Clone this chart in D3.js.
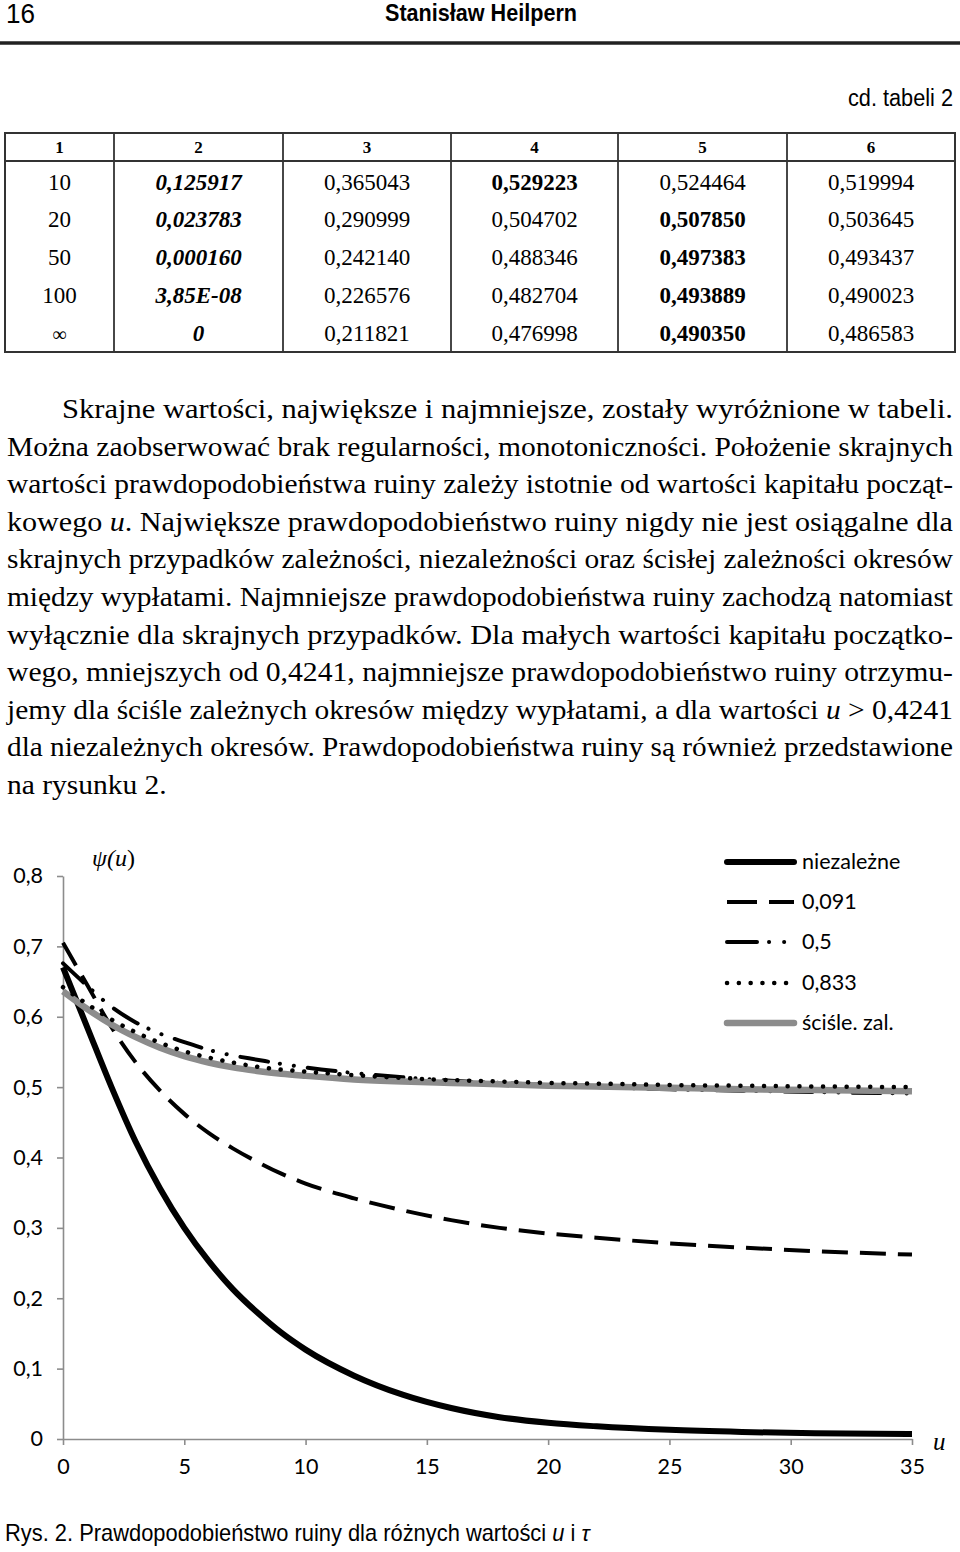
<!DOCTYPE html>
<html>
<head>
<meta charset="utf-8">
<script src="https://cdn.jsdelivr.net/npm/d3@7/dist/d3.min.js"></script>
<style>
  body { margin: 0; background: #fff; }
</style>
</head>
<body>
<svg id="page" width="960" height="1552"></svg>
<script>
// ---- table data (cd. tabeli 2)
const tableHead = ["1", "2", "3", "4", "5", "6"];
const tableRows = [
  ["10", "0,125917", "0,365043", "0,529223", "0,524464", "0,519994"],
  ["20", "0,023783", "0,290999", "0,504702", "0,507850", "0,503645"],
  ["50", "0,000160", "0,242140", "0,488346", "0,497383", "0,493437"],
  ["100", "3,85E-08", "0,226576", "0,482704", "0,493889", "0,490023"],
  ["∞", "0", "0,211821", "0,476998", "0,490350", "0,486583"]
];
// highlighted extremes: [row, col]
const boldCells = [[0, 3], [1, 4], [2, 4], [3, 4], [4, 4]];
const boldItalicCol = 1;

// ---- paragraph, one entry per printed line (*x* = italic)
const paragraphLines = [
  "Skrajne wartości, największe i najmniejsze, zostały wyróżnione w tabeli.",
  "Można zaobserwować brak regularności, monotoniczności. Położenie skrajnych",
  "wartości prawdopodobieństwa ruiny zależy istotnie od wartości kapitału począt-",
  "kowego *u*. Największe prawdopodobieństwo ruiny nigdy nie jest osiągalne dla",
  "skrajnych przypadków zależności, niezależności oraz ścisłej zależności okresów",
  "między wypłatami. Najmniejsze prawdopodobieństwa ruiny zachodzą natomiast",
  "wyłącznie dla skrajnych przypadków. Dla małych wartości kapitału początko-",
  "wego, mniejszych od 0,4241, najmniejsze prawdopodobieństwo ruiny otrzymu-",
  "jemy dla ściśle zależnych okresów między wypłatami, a dla wartości *u* > 0,4241",
  "dla niezależnych okresów. Prawdopodobieństwa ruiny są również przedstawione",
  "na rysunku 2."
];

// ---- chart data, values
const uGrid = [0, 1, 2, 3, 4, 5, 6, 7, 8, 9, 10, 12, 14, 16, 18, 20, 22, 25, 28, 31, 35];
const psiNiezalezne = [0.670, 0.585, 0.500, 0.422, 0.356, 0.300, 0.253, 0.213, 0.180, 0.151, 0.127,
  0.090, 0.063, 0.044, 0.031, 0.023, 0.018, 0.013, 0.010, 0.008, 0.007];
const psi0091 = [0.705, 0.645, 0.585, 0.535, 0.495, 0.462, 0.435, 0.413, 0.394, 0.377, 0.363,
  0.342, 0.325, 0.311, 0.300, 0.292, 0.286, 0.278, 0.272, 0.267, 0.262];
const psi05 = [0.676, 0.644, 0.614, 0.592, 0.576, 0.564, 0.553, 0.545, 0.539, 0.533, 0.528,
  0.520, 0.514, 0.509, 0.506, 0.503, 0.500, 0.497, 0.495, 0.493, 0.491];
const psi0833 = [0.642, 0.618, 0.596, 0.578, 0.563, 0.551, 0.542, 0.535, 0.529, 0.525, 0.522,
  0.517, 0.513, 0.510, 0.508, 0.506, 0.505, 0.503, 0.502, 0.501, 0.500];
const psiScisle = [0.636, 0.611, 0.589, 0.571, 0.556, 0.544, 0.535, 0.528, 0.523, 0.519, 0.516,
  0.511, 0.508, 0.506, 0.504, 0.502, 0.501, 0.499, 0.497, 0.496, 0.494];
const seriesNames = ["niezależne", "0,091", "0,5", "0,833", "ściśle. zal."];
const yTicks = [0, 0.1, 0.2, 0.3, 0.4, 0.5, 0.6, 0.7, 0.8];
const xTicks = [0, 5, 10, 15, 20, 25, 30, 35];

const serif = "'Liberation Serif','Times New Roman',serif";
const narrow = "'Liberation Sans Narrow','Arial Narrow','Liberation Sans',sans-serif";
const sans = "Lato,'Open Sans',sans-serif";

const svg = d3.select("#page");
svg.append("rect").attr("width", 960).attr("height", 1552).attr("fill", "#fff");

// ---- running head
svg.append("text").attr("x", 6).attr("y", 23)
  .style("font", `27px ${narrow}`).attr("textLength", 29).attr("lengthAdjust", "spacingAndGlyphs")
  .text("16");
svg.append("text").attr("x", 385).attr("y", 21)
  .style("font", `bold 23px ${narrow}`).attr("textLength", 192).attr("lengthAdjust", "spacingAndGlyphs")
  .text("Stanisław Heilpern");
svg.append("line").attr("x1", 0).attr("x2", 960).attr("y1", 43).attr("y2", 43)
  .attr("stroke", "#222").attr("stroke-width", 3.5);
svg.append("text").attr("x", 848).attr("y", 106)
  .style("font", `23px ${narrow}`).attr("textLength", 105).attr("lengthAdjust", "spacingAndGlyphs")
  .text("cd. tabeli 2");

// ---- table
const colEdges = [5, 114, 283, 451, 618, 787, 955];
const tTop = 133, tHead = 161, tBottom = 352;
const rowBase = [190, 227, 265, 303, 341];
const tg = svg.append("g");
tg.append("rect").attr("x", colEdges[0]).attr("y", tTop)
  .attr("width", colEdges[6] - colEdges[0]).attr("height", tBottom - tTop)
  .attr("fill", "none").attr("stroke", "#333").attr("stroke-width", 2);
tg.append("line").attr("x1", colEdges[0]).attr("x2", colEdges[6]).attr("y1", tHead).attr("y2", tHead)
  .attr("stroke", "#333").attr("stroke-width", 1.8);
tg.selectAll(".vline").data(colEdges.slice(1, -1)).enter().append("line")
  .attr("x1", d => d).attr("x2", d => d).attr("y1", tTop).attr("y2", tBottom)
  .attr("stroke", "#333").attr("stroke-width", 1.8);
const colMid = i => (colEdges[i] + colEdges[i + 1]) / 2;
tg.selectAll(".th").data(tableHead).enter().append("text")
  .attr("x", (d, i) => colMid(i)).attr("y", 153).attr("text-anchor", "middle")
  .style("font", `bold 17px ${serif}`).text(d => d);
tableRows.forEach((row, r) => {
  tg.selectAll(".r" + r).data(row).enter().append("text")
    .attr("x", (d, c) => colMid(c)).attr("y", rowBase[r]).attr("text-anchor", "middle")
    .style("font-family", serif)
    .style("font-size", (d, c) => (c === 0 && d === "∞") ? "20px" : "23px")
    .style("font-weight", (d, c) => (c === boldItalicCol || boldCells.some(b => b[0] === r && b[1] === c)) ? "bold" : "normal")
    .style("font-style", (d, c) => c === boldItalicCol ? "italic" : "normal")
    .text(d => d);
});

// ---- justified paragraph (each line stretched to the measure)
const pg = svg.append("g").style("font", `27px ${serif}`).attr("fill", "#000");
const lineNodes = paragraphLines.map((line, i) => {
  const t = pg.append("text").attr("x", i === 0 ? 62 : 7).attr("y", 418 + i * 37.6);
  line.split(/(\*[^*]+\*)/).filter(s => s).forEach(s => {
    const it = s.startsWith("*");
    t.append("tspan").style("font-style", it ? "italic" : "normal").text(it ? s.slice(1, -1) : s);
  });
  return t;
});
const ratios = [];
lineNodes.forEach((t, i) => {
  if (i === lineNodes.length - 1) return;
  const w = t.node().getComputedTextLength();
  const target = 953 - (i === 0 ? 62 : 7);
  ratios.push(target / w);
  t.attr("textLength", target).attr("lengthAdjust", "spacingAndGlyphs");
});
const lastT = lineNodes[lineNodes.length - 1];
lastT.attr("textLength", lastT.node().getComputedTextLength() * d3.median(ratios))
  .attr("lengthAdjust", "spacingAndGlyphs");

// ---- chart
const x = d3.scaleLinear().domain([0, 35]).range([63, 912]);
const y = d3.scaleLinear().domain([0, 0.8]).range([1439, 876]);
const axisColor = "#8c8c8c";
const fmt = d => d === 0 ? "0" : d3.format(".1f")(d).replace(".", ",");

const yAxis = svg.append("g").attr("transform", "translate(63,0)")
  .call(d3.axisLeft(y).tickValues(yTicks).tickFormat(fmt).tickSize(6).tickSizeOuter(0).tickPadding(14));
const xAxis = svg.append("g").attr("transform", "translate(0,1439)")
  .call(d3.axisBottom(x).tickValues(xTicks).tickSize(6).tickSizeOuter(0).tickPadding(14));
[yAxis, xAxis].forEach(a => {
  a.select(".domain").attr("stroke", axisColor).attr("stroke-width", 1.6);
  a.selectAll(".tick line").attr("stroke", axisColor).attr("stroke-width", 1.6);
  a.selectAll(".tick text").attr("fill", "#000").style("font", `21.5px ${sans}`);
});

svg.append("text").attr("x", 92).attr("y", 866).style("font", `italic 24px ${serif}`)
  .text("ψ(").append("tspan").text("u").append("tspan").style("font-style", "normal").text(")");
svg.append("text").attr("x", 933).attr("y", 1450).style("font", `italic 25px ${serif}`).text("u");

const styles = [
  { color: "#000", width: 6, dash: null, cap: "butt" },
  { color: "#000", width: 4, dash: "26,12", cap: "butt" },
  { color: "#000", width: 4, dash: "28,12,0.1,14,0.1,14", cap: "round" },
  { color: "#000", width: 4.5, dash: "0.1,11.7", cap: "round" },
  { color: "#8c8c8c", width: 6.5, dash: null, cap: "butt" }
];
const seriesValues = [psiNiezalezne, psi0091, psi05, psi0833, psiScisle];
const line = d3.line().x(d => x(d[0])).y(d => y(d[1])).curve(d3.curveMonotoneX);
const drawOrder = [0, 1, 2, 4, 3];
drawOrder.forEach(k => {
  const pts = uGrid.map((u, i) => [u, seriesValues[k][i]]);
  svg.append("path").datum(pts).attr("d", line)
    .attr("fill", "none").attr("stroke", styles[k].color).attr("stroke-width", styles[k].width)
    .attr("stroke-dasharray", styles[k].dash).attr("stroke-linecap", styles[k].cap)
    .attr("stroke-linejoin", "round");
});

// legend
const legendY = [862, 902, 942, 983, 1023];
const lg = svg.append("g");
seriesNames.forEach((name, k) => {
  lg.append("line").attr("x1", 727).attr("x2", 794).attr("y1", legendY[k]).attr("y2", legendY[k])
    .attr("stroke", styles[k].color).attr("stroke-width", styles[k].width)
    .attr("stroke-dasharray", k === 1 ? "30,12" : k === 2 ? "30,12,0.1,15,0.1,15" : styles[k].dash)
    .attr("stroke-linecap", k === 0 || k === 4 ? "round" : styles[k].cap);
  lg.append("text").attr("x", 802).attr("y", legendY[k] + 7).style("font", `21.5px ${sans}`).text(name);
});

// ---- caption (scaled horizontally to the printed width)
const capG = svg.append("g");
const cap = capG.append("text").attr("x", 0).attr("y", 0).style("font", `23px ${narrow}`);
cap.append("tspan").text("Rys. 2. Prawdopodobieństwo ruiny dla różnych wartości ");
cap.append("tspan").style("font-style", "italic").text("u");
cap.append("tspan").text(" i ");
cap.append("tspan").style("font-style", "italic").text("τ");
const capW = cap.node().getComputedTextLength();
capG.attr("transform", `translate(5,1541) scale(${585 / capW},1)`);
</script>
</body>
</html>
